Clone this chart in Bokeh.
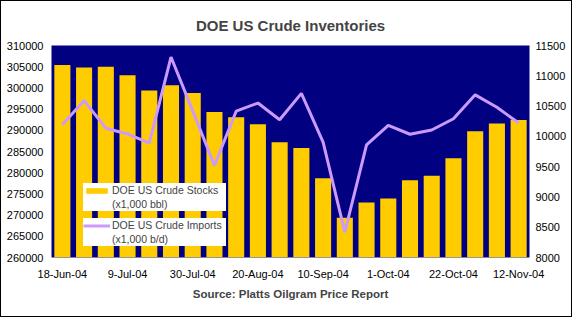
from bokeh.plotting import figure
from bokeh.models import (ColumnDataSource, Range1d, LinearAxis, FixedTicker,
                          SingleIntervalTicker, NumeralTickFormatter, Legend,
                          LegendItem, Title)
from bokeh.embed import file_html
from bokeh.resources import INLINE

dates = ["18-Jun-04", "25-Jun-04", "2-Jul-04", "9-Jul-04", "16-Jul-04", "23-Jul-04",
         "30-Jul-04", "6-Aug-04", "13-Aug-04", "20-Aug-04", "27-Aug-04", "3-Sep-04",
         "10-Sep-04", "17-Sep-04", "24-Sep-04", "1-Oct-04", "8-Oct-04", "15-Oct-04",
         "22-Oct-04", "29-Oct-04", "5-Nov-04", "12-Nov-04"]
stocks = [305400, 304800, 305000, 303000, 299400, 300600, 298800, 294300, 293100,
          291400, 287200, 285800, 278700, 269400, 273000, 273900, 278200, 279300,
          283400, 289800, 291600, 292400]
imports = [10190, 10590, 10135, 10040, 9890, 11310, 10420, 9520, 10415, 10550,
           10275, 10710, 9905, 8420, 9860, 10180, 10035, 10105, 10290, 10685,
           10480, 10220]
label_every = 3
stocks_label = ["DOE US Crude Stocks", "(x1,000 bbl)"]
imports_label = ["DOE US Crude Imports", "(x1,000 b/d)"]

FONT = "Liberation Sans"
idx = list(range(len(dates)))
src = ColumnDataSource(dict(x=idx, stocks=stocks, imports=imports))

p = figure(width=572, height=317, output_backend="svg", toolbar_location=None,
           x_range=Range1d(-0.5, len(dates) - 0.5), y_range=Range1d(260000, 310000),
           min_border_left=50, min_border_right=44, min_border_top=44,
           min_border_bottom=61)
p.styles = {"border": "1px solid black"}
p.background_fill_color = "#000080"
p.border_fill_color = "white"
p.outline_line_color = None
p.xgrid.visible = False
p.ygrid.visible = False

p.extra_y_ranges = {"imp": Range1d(8000, 11500)}

bars = p.vbar(x="x", top="stocks", bottom=260000, width=0.74, source=src,
              fill_color="#FFCC00", line_color=None)
line = p.line(x="x", y="imports", source=src, y_range_name="imp",
              line_color="#CC99FF", line_width=3)
# invisible renderer used only for second legend lines
dummy = p.scatter(x="x", y="y", source=ColumnDataSource(dict(x=[], y=[])),
                  fill_alpha=0, line_alpha=0)

ticks = idx[::label_every]
p.xaxis.ticker = FixedTicker(ticks=ticks)
p.xaxis.major_label_overrides = {i: dates[i] for i in ticks}
p.yaxis.ticker = SingleIntervalTicker(interval=5000)
p.yaxis.formatter = NumeralTickFormatter(format="0")

raxis = LinearAxis(y_range_name="imp", ticker=SingleIntervalTicker(interval=500),
                   formatter=NumeralTickFormatter(format="0"))
p.add_layout(raxis, "right")

for ax in [p.xaxis[0], p.yaxis[0], raxis]:
    ax.axis_line_color = None
    ax.major_tick_line_color = None
    ax.minor_tick_line_color = None
    ax.major_tick_out = 0
    ax.major_tick_in = 0
    ax.minor_tick_out = 0
    ax.minor_tick_in = 0
    ax.major_label_text_font = FONT
    ax.major_label_text_font_size = "11px"
    ax.major_label_text_color = "black"
p.xaxis[0].major_label_standoff = 10
p.yaxis[0].major_label_standoff = 8
raxis.major_label_standoff = 6


def make_legend(items, loc):
    lg = Legend(items=items, location=loc)
    lg.label_text_font = FONT
    lg.label_text_font_size = "10.5px"
    lg.glyph_width = 27
    lg.glyph_height = 7
    lg.label_height = 14
    lg.label_width = 114
    lg.border_line_color = None
    lg.background_fill_color = "white"
    lg.background_fill_alpha = 1.0
    lg.padding = 5
    lg.spacing = 0
    lg.margin = 0
    lg.label_standoff = 2
    return lg


legA = make_legend([LegendItem(label=stocks_label[0], renderers=[bars]),
                    LegendItem(label=stocks_label[1], renderers=[dummy])], (32, 46))
legB = make_legend([LegendItem(label=imports_label[0], renderers=[line]),
                    LegendItem(label=imports_label[1], renderers=[dummy])], (32, 11))
p.add_layout(legA, "center")
p.add_layout(legB, "center")

p.title.text = "DOE US Crude Inventories"
p.title.align = "center"
p.title.text_font = FONT
p.title.text_font_size = "15px"
p.title.text_font_style = "bold"
p.title.standoff = 24

src_title = Title(text="Source: Platts Oilgram Price Report", align="center",
                  text_font=FONT, text_font_size="11.5px", text_font_style="bold",
                  standoff=7)
p.add_layout(src_title, "below")

open("out.html", "w").write(file_html(p, INLINE))
